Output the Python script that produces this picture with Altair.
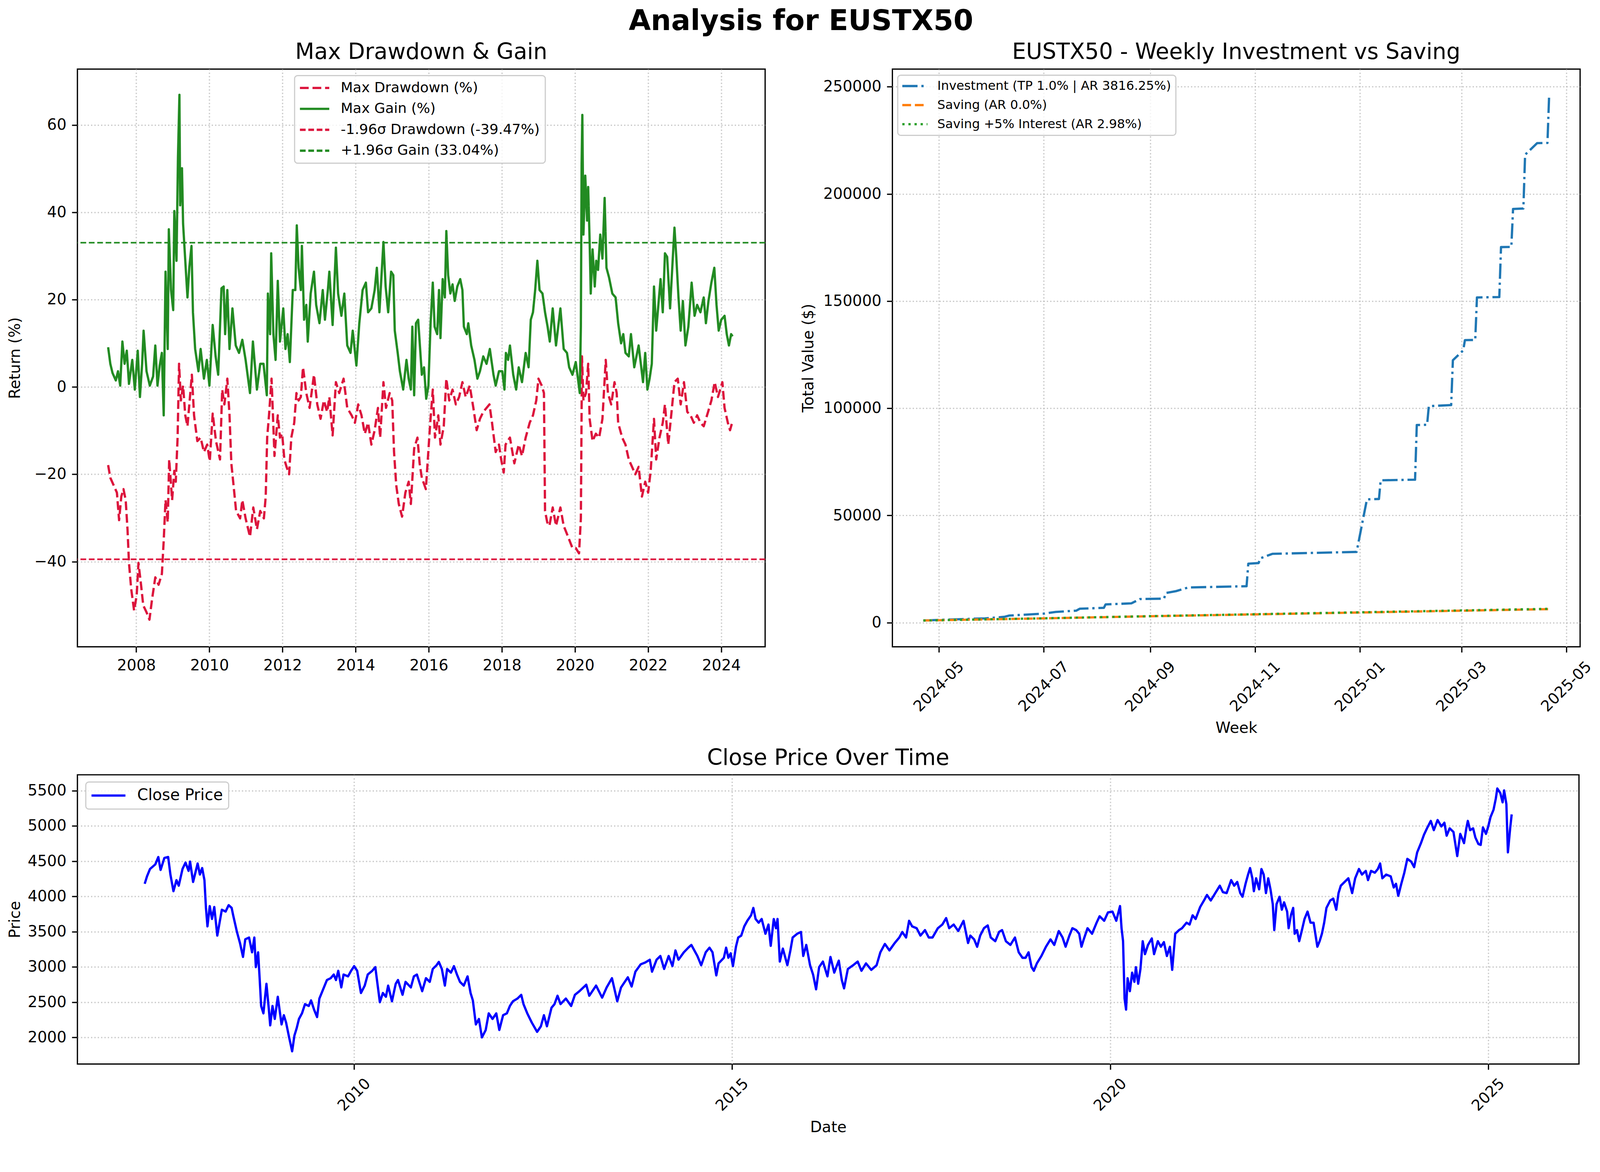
import math

import altair as alt
import pandas as pd

# ---------------------------------------------------------------------------
# Max drawdown / max gain (%) - x values are decimal years
# ---------------------------------------------------------------------------
DD_YEARS = [
    2007.23, 2007.29, 2007.38, 2007.47, 2007.53, 2007.59, 2007.65, 2007.71, 2007.76, 2007.80,
    2007.86, 2007.94, 2008.01, 2008.06, 2008.13, 2008.19, 2008.28, 2008.36, 2008.43, 2008.52,
    2008.61, 2008.70, 2008.75, 2008.80, 2008.86, 2008.90, 2008.98, 2009.04, 2009.08, 2009.13,
    2009.17, 2009.22, 2009.28, 2009.34, 2009.40, 2009.46, 2009.52, 2009.58, 2009.67, 2009.76,
    2009.85, 2009.94, 2010.01, 2010.09, 2010.18, 2010.29, 2010.35, 2010.41, 2010.49, 2010.55,
    2010.60, 2010.66, 2010.73, 2010.84, 2010.90, 2010.99, 2011.11, 2011.20, 2011.30, 2011.39,
    2011.49, 2011.54, 2011.58, 2011.63, 2011.70, 2011.78, 2011.87, 2011.93, 2011.99, 2012.05,
    2012.11, 2012.18, 2012.24, 2012.32, 2012.38, 2012.44, 2012.50, 2012.56, 2012.65, 2012.74,
    2012.86, 2012.95, 2013.04, 2013.13, 2013.22, 2013.28, 2013.37, 2013.46, 2013.55, 2013.67,
    2013.77, 2013.89, 2013.98, 2014.07, 2014.16, 2014.25, 2014.34, 2014.43, 2014.52, 2014.61,
    2014.67, 2014.76, 2014.83, 2014.93, 2015.00, 2015.05, 2015.11, 2015.18, 2015.27, 2015.36,
    2015.45, 2015.51, 2015.60, 2015.69, 2015.75, 2015.81, 2015.92, 2015.98, 2016.04, 2016.11,
    2016.17, 2016.26, 2016.32, 2016.41, 2016.48, 2016.56, 2016.65, 2016.74, 2016.83, 2016.92,
    2017.01, 2017.12, 2017.22, 2017.31, 2017.40, 2017.49, 2017.66, 2017.73, 2017.83, 2017.92,
    2017.98, 2018.05, 2018.10, 2018.22, 2018.34, 2018.46, 2018.55, 2018.65, 2018.76, 2018.85,
    2018.94, 2019.00, 2019.09, 2019.15, 2019.18, 2019.24, 2019.30, 2019.39, 2019.48, 2019.60,
    2019.69, 2019.81, 2019.93, 2020.02, 2020.11, 2020.16, 2020.19, 2020.23, 2020.30, 2020.36,
    2020.40, 2020.48, 2020.57, 2020.66, 2020.75, 2020.84, 2020.90, 2020.99, 2021.08, 2021.14,
    2021.18, 2021.29, 2021.38, 2021.47, 2021.56, 2021.65, 2021.74, 2021.83, 2021.92, 2022.00,
    2022.07, 2022.16, 2022.22, 2022.31, 2022.40, 2022.46, 2022.55, 2022.64, 2022.72, 2022.81,
    2022.89, 2022.98, 2023.07, 2023.16, 2023.25, 2023.34, 2023.43, 2023.52, 2023.64, 2023.73,
    2023.82, 2023.91, 2024.03, 2024.09, 2024.18, 2024.24, 2024.31,
]
DD_VALUES = [
    -17.9, -20.8, -22.5, -24.2, -30.5, -25.1, -23.4, -25.9, -32.6, -40.3,
    -46.2, -51.2, -47.8, -40.3, -45.3, -50.0, -51.6, -53.3, -48.7, -43.6,
    -45.3, -42.8, -35.2, -25.9, -31.0, -16.6, -25.9, -19.2, -21.7, -11.6,
    5.3, -3.1, 0.3, -6.5, -9.0, -3.1, 2.8, -6.5, -12.4, -11.6,
    -14.9, -13.2, -17.0, -6.1, -12.4, -16.6, -0.6, -4.0, 1.9, -6.5,
    -17.5, -22.5, -28.4, -30.1, -25.9, -30.1, -34.3, -27.6, -32.6, -28.4,
    -30.1, -25.1, -11.6, -6.5, 1.9, -15.8, -6.5, -11.6, -10.7, -16.6,
    -18.3, -20.0, -11.6, -8.2, -1.4, -3.1, -2.3, 4.5, -1.4, -4.8,
    2.8, -4.0, -7.3, -3.1, -5.7, -2.3, -11.1, 1.1, -1.4, 1.9,
    -4.8, -6.5, -8.2, -4.0, -6.5, -10.7, -8.2, -13.2, -9.9, -4.8,
    -11.6, 1.1, -4.8, -1.4, -3.1, -14.9, -22.5, -26.8, -29.7, -24.2,
    -21.7, -26.8, -14.1, -11.6, -17.5, -20.8, -23.4, -15.8, -8.2, -0.6,
    -11.6, -6.5, -13.2, -9.0, 1.9, -3.1, -0.6, -4.0, -2.3, 1.1,
    -2.3, 0.3, -4.8, -9.9, -7.3, -5.7, -4.0, -8.2, -14.9, -13.2,
    -16.6, -19.6, -13.2, -11.6, -17.5, -13.2, -15.8, -11.6, -8.2, -6.5,
    -3.1, 1.9, 0.3, -1.4, -28.4, -31.0, -31.8, -27.6, -31.8, -27.6,
    -31.8, -34.3, -36.9, -36.9, -38.1, -30.1, 7.0, -3.1, -1.4, 5.3,
    -7.3, -12.4, -10.7, -11.6, -7.3, 6.2, -1.4, -4.0, 1.1, -1.4,
    -8.2, -11.6, -13.2, -16.6, -18.3, -20.0, -18.3, -25.1, -21.7, -24.2,
    -19.2, -7.3, -16.6, -11.6, -8.2, -4.0, -13.2, -5.7, 1.1, 1.9,
    -4.0, 1.1, -5.7, -6.5, -8.2, -6.5, -8.2, -9.0, -5.7, -3.1,
    1.1, -2.3, 1.1, -4.8, -8.2, -9.9, -7.8,
]
GAIN_YEARS = [
    2007.23, 2007.29, 2007.35, 2007.44, 2007.50, 2007.56, 2007.62, 2007.68, 2007.74, 2007.80,
    2007.89, 2007.96, 2008.04, 2008.10, 2008.16, 2008.20, 2008.28, 2008.37, 2008.46, 2008.52,
    2008.58, 2008.64, 2008.70, 2008.75, 2008.80, 2008.86, 2008.89, 2008.95, 2009.01, 2009.04,
    2009.10, 2009.14, 2009.18, 2009.20, 2009.25, 2009.28, 2009.34, 2009.40, 2009.45, 2009.51,
    2009.55, 2009.61, 2009.70, 2009.76, 2009.85, 2009.93, 2010.00, 2010.09, 2010.17, 2010.24,
    2010.33, 2010.39, 2010.43, 2010.49, 2010.55, 2010.63, 2010.72, 2010.81, 2010.90, 2010.99,
    2011.11, 2011.19, 2011.30, 2011.39, 2011.48, 2011.57, 2011.60, 2011.66, 2011.69, 2011.75,
    2011.81, 2011.87, 2011.93, 2012.02, 2012.08, 2012.14, 2012.20, 2012.28, 2012.35, 2012.39,
    2012.44, 2012.50, 2012.53, 2012.59, 2012.65, 2012.69, 2012.77, 2012.86, 2012.92, 2013.01,
    2013.10, 2013.16, 2013.24, 2013.28, 2013.37, 2013.46, 2013.52, 2013.61, 2013.69, 2013.77,
    2013.86, 2013.92, 2014.02, 2014.10, 2014.19, 2014.28, 2014.34, 2014.43, 2014.52, 2014.58,
    2014.65, 2014.76, 2014.82, 2014.89, 2014.97, 2015.03, 2015.07, 2015.15, 2015.21, 2015.30,
    2015.39, 2015.45, 2015.51, 2015.55, 2015.60, 2015.65, 2015.71, 2015.75, 2015.81, 2015.87,
    2015.93, 2015.99, 2016.05, 2016.11, 2016.16, 2016.23, 2016.28, 2016.32, 2016.38, 2016.44,
    2016.48, 2016.53, 2016.59, 2016.65, 2016.71, 2016.78, 2016.86, 2016.92, 2016.96, 2017.04,
    2017.08, 2017.16, 2017.25, 2017.33, 2017.40, 2017.49, 2017.58, 2017.67, 2017.77, 2017.83,
    2017.92, 2018.01, 2018.07, 2018.11, 2018.17, 2018.22, 2018.31, 2018.39, 2018.46, 2018.55,
    2018.65, 2018.73, 2018.79, 2018.85, 2018.91, 2018.97, 2019.03, 2019.11, 2019.18, 2019.25,
    2019.31, 2019.39, 2019.48, 2019.60, 2019.69, 2019.78, 2019.84, 2019.93, 2020.02, 2020.08,
    2020.13, 2020.16, 2020.18, 2020.20, 2020.23, 2020.28, 2020.33, 2020.36, 2020.40, 2020.43,
    2020.48, 2020.54, 2020.58, 2020.63, 2020.69, 2020.75, 2020.81, 2020.86, 2020.93, 2021.02,
    2021.11, 2021.18, 2021.26, 2021.32, 2021.38, 2021.47, 2021.53, 2021.62, 2021.68, 2021.74,
    2021.80, 2021.86, 2021.92, 2021.98, 2022.04, 2022.10, 2022.16, 2022.22, 2022.28, 2022.34,
    2022.40, 2022.46, 2022.52, 2022.60, 2022.67, 2022.72, 2022.77, 2022.83, 2022.89, 2022.95,
    2023.02, 2023.10, 2023.19, 2023.27, 2023.34, 2023.43, 2023.52, 2023.58, 2023.65, 2023.73,
    2023.81, 2023.87, 2023.93, 2024.00, 2024.09, 2024.15, 2024.21, 2024.27, 2024.31,
]
GAIN_VALUES = [
    9.1, 5.3, 3.2, 1.5, 3.6, 0.3, 10.4, 5.3, 8.3, 0.7,
    6.2, -0.6, 8.3, -2.3, 5.3, 12.9, 3.6, 0.3, 2.4, 9.5,
    0.3, 4.9, 7.8, -6.5, 26.4, 8.7, 36.1, 22.2, 17.6, 40.3,
    28.9, 52.6, 66.9, 41.6, 50.1, 37.4, 28.9, 20.5, 27.3, 32.3,
    17.1, 8.7, 3.6, 8.7, 1.9, 6.2, 0.3, 14.2, 7.0, 2.8,
    22.6, 23.0, 12.1, 22.2, 8.7, 18.0, 9.5, 7.8, 10.8, 6.2,
    -1.4, 10.4, -0.6, 5.3, 5.3, -1.9, 21.4, 12.1, 30.6, 12.1,
    6.2, 24.3, 10.4, 18.0, 8.7, 12.1, 5.7, 22.2, 22.2, 37.0,
    27.3, 22.2, 32.3, 15.4, 18.8, 10.4, 21.4, 26.4, 18.8, 14.6,
    22.2, 15.4, 22.2, 26.4, 14.2, 31.9, 21.4, 16.3, 21.4, 9.5,
    7.8, 12.9, 4.9, 14.6, 22.2, 23.9, 17.1, 18.0, 22.2, 27.3,
    17.1, 33.2, 23.0, 17.1, 26.4, 25.6, 12.9, 7.8, 3.6, -0.6,
    6.2, 1.9, -0.6, 13.8, -1.9, 14.6, 15.4, 10.4, 2.8, 4.5,
    -2.7, 0.3, 14.6, 23.9, 13.8, 12.1, 22.2, 11.2, 24.7, 20.5,
    35.7, 25.6, 21.4, 23.5, 19.7, 23.0, 24.7, 22.2, 13.8, 12.1,
    14.6, 9.5, 6.2, 1.9, 3.6, 7.0, 5.3, 8.7, 2.8, 0.3,
    3.6, 3.6, -0.6, 7.8, 6.2, 9.5, 2.8, -0.6, 4.5, 1.1,
    7.8, 4.5, 15.4, 17.1, 22.2, 28.9, 22.2, 21.4, 17.1, 13.8,
    10.4, 18.0, 9.5, 18.0, 8.7, 7.8, 4.5, 2.8, 5.7, 1.9,
    -1.4, 13.8, 50.9, 62.3, 34.9, 48.4, 38.1, 45.8, 33.2, 21.4,
    31.5, 23.0, 28.9, 26.8, 34.9, 29.4, 43.3, 27.3, 25.1, 21.4,
    20.5, 14.6, 10.0, 12.1, 7.8, 7.0, 12.1, 4.5, 7.0, 9.5,
    5.3, 1.1, 7.8, -0.6, 1.9, 5.3, 23.0, 12.9, 18.8, 24.7,
    17.1, 30.6, 29.8, 18.0, 28.9, 36.5, 29.8, 20.5, 12.9, 19.7,
    9.5, 13.8, 23.9, 16.3, 18.8, 17.1, 20.5, 14.6, 19.7, 23.9,
    27.3, 18.8, 12.9, 15.4, 16.3, 12.1, 9.5, 12.1, 11.6,
]
DD_LIMIT = -39.47
GAIN_LIMIT = 33.04
LEFT_LABELS = [
    "Max Drawdown (%)",
    "Max Gain (%)",
    "-1.96σ Drawdown (-39.47%)",
    "+1.96σ Gain (33.04%)",
]

# ---------------------------------------------------------------------------
# Weekly investment vs saving
# ---------------------------------------------------------------------------
INV_DATES = [
    "2024-04-22", "2024-05-09", "2024-05-28", "2024-06-08", "2024-06-11", "2024-07-01",
    "2024-07-08", "2024-07-20", "2024-07-22", "2024-08-05", "2024-08-06", "2024-08-21",
    "2024-08-26", "2024-09-09", "2024-09-10", "2024-09-16", "2024-09-23", "2024-10-27",
    "2024-10-28", "2024-11-03", "2024-11-04", "2024-11-11", "2024-12-30", "2025-01-05",
    "2025-01-12", "2025-01-13", "2025-02-02", "2025-02-03", "2025-02-09", "2025-02-10",
    "2025-02-23", "2025-02-24", "2025-03-02", "2025-03-03", "2025-03-09", "2025-03-10",
    "2025-03-23", "2025-03-24", "2025-03-30", "2025-03-31", "2025-04-06", "2025-04-07",
    "2025-04-14", "2025-04-20", "2025-04-21",
]
INV_VALUES = [
    1000, 1500, 2000, 2700, 3300, 4200,
    5000, 5600, 6500, 6900, 8500, 9000,
    11000, 11200, 13800, 14700, 16400, 17000,
    27500, 27800, 30000, 32100, 33000, 57500,
    57700, 66400, 66700, 92200, 92300, 101000,
    101500, 122400, 127000, 131800, 131900, 151700,
    151900, 175200, 175300, 193000, 193200, 218300,
    223700, 223800, 246300,
]
SAVE_DATES = [
    "2024-04-22", "2024-07-01", "2024-09-02", "2024-11-04",
    "2025-01-06", "2025-03-03", "2025-04-21",
]
SAVE_VALUES = [1000, 2000, 3000, 3900, 4800, 5600, 6300]
SAVE5_VALUES = [1000, 2020, 3040, 3970, 4900, 5720, 6450]
RIGHT_LABELS = [
    "Investment (TP 1.0% | AR 3816.25%)",
    "Saving (AR 0.0%)",
    "Saving +5% Interest (AR 2.98%)",
]

# ---------------------------------------------------------------------------
# Close price - x values are decimal years
# ---------------------------------------------------------------------------
PRICE_YEARS = [
    2007.23, 2007.26, 2007.30, 2007.37, 2007.41, 2007.44, 2007.49, 2007.54, 2007.57, 2007.61,
    2007.65, 2007.68, 2007.73, 2007.77, 2007.81, 2007.83, 2007.87, 2007.93, 2007.96, 2007.99,
    2008.02, 2008.04, 2008.06, 2008.09, 2008.12, 2008.15, 2008.19, 2008.25, 2008.30, 2008.34,
    2008.38, 2008.40, 2008.45, 2008.49, 2008.53, 2008.56, 2008.61, 2008.65, 2008.68, 2008.70,
    2008.73, 2008.75, 2008.77, 2008.80, 2008.84, 2008.87, 2008.89, 2008.92, 2008.95, 2008.99,
    2009.04, 2009.07, 2009.10, 2009.14, 2009.18, 2009.21, 2009.24, 2009.27, 2009.31, 2009.35,
    2009.40, 2009.43, 2009.47, 2009.51, 2009.54, 2009.59, 2009.64, 2009.69, 2009.73, 2009.76,
    2009.79, 2009.83, 2009.86, 2009.92, 2009.96, 2010.00, 2010.04, 2010.09, 2010.14, 2010.18,
    2010.24, 2010.28, 2010.34, 2010.38, 2010.42, 2010.45, 2010.50, 2010.55, 2010.58, 2010.64,
    2010.68, 2010.75, 2010.79, 2010.83, 2010.90, 2010.95, 2011.00, 2011.04, 2011.09, 2011.12,
    2011.16, 2011.20, 2011.23, 2011.28, 2011.32, 2011.36, 2011.40, 2011.45, 2011.50, 2011.54,
    2011.57, 2011.61, 2011.65, 2011.69, 2011.74, 2011.78, 2011.83, 2011.88, 2011.92, 2011.97,
    2012.02, 2012.06, 2012.10, 2012.16, 2012.21, 2012.24, 2012.29, 2012.35, 2012.42, 2012.47,
    2012.51, 2012.55, 2012.61, 2012.65, 2012.69, 2012.73, 2012.80, 2012.87, 2012.92, 2012.98,
    2013.07, 2013.11, 2013.20, 2013.28, 2013.34, 2013.41, 2013.48, 2013.53, 2013.62, 2013.67,
    2013.72, 2013.79, 2013.85, 2013.91, 2013.94, 2014.00, 2014.05, 2014.10, 2014.16, 2014.21,
    2014.25, 2014.29, 2014.36, 2014.42, 2014.46, 2014.54, 2014.59, 2014.65, 2014.70, 2014.74,
    2014.79, 2014.82, 2014.89, 2014.92, 2014.95, 2014.98, 2015.01, 2015.05, 2015.08, 2015.12,
    2015.16, 2015.20, 2015.25, 2015.28, 2015.31, 2015.35, 2015.39, 2015.44, 2015.48, 2015.51,
    2015.55, 2015.58, 2015.60, 2015.63, 2015.67, 2015.73, 2015.77, 2015.80, 2015.86, 2015.91,
    2015.94, 2015.98, 2016.03, 2016.07, 2016.11, 2016.15, 2016.20, 2016.26, 2016.30, 2016.35,
    2016.41, 2016.45, 2016.48, 2016.53, 2016.60, 2016.66, 2016.71, 2016.77, 2016.84, 2016.91,
    2016.96, 2017.02, 2017.08, 2017.15, 2017.21, 2017.25, 2017.30, 2017.34, 2017.38, 2017.44,
    2017.49, 2017.55, 2017.60, 2017.65, 2017.72, 2017.78, 2017.83, 2017.87, 2017.93, 2017.99,
    2018.06, 2018.09, 2018.12, 2018.15, 2018.20, 2018.24, 2018.28, 2018.33, 2018.38, 2018.42,
    2018.48, 2018.53, 2018.57, 2018.62, 2018.68, 2018.74, 2018.79, 2018.84, 2018.88, 2018.92,
    2018.96, 2018.99, 2019.03, 2019.09, 2019.15, 2019.21, 2019.26, 2019.32, 2019.37, 2019.41,
    2019.46, 2019.50, 2019.55, 2019.59, 2019.62, 2019.65, 2019.70, 2019.76, 2019.82, 2019.86,
    2019.92, 2019.97, 2020.03, 2020.08, 2020.13, 2020.15, 2020.17, 2020.19, 2020.21, 2020.23,
    2020.26, 2020.29, 2020.32, 2020.34, 2020.37, 2020.40, 2020.43, 2020.46, 2020.50, 2020.55,
    2020.58, 2020.63, 2020.67, 2020.71, 2020.75, 2020.79, 2020.82, 2020.86, 2020.91, 2020.95,
    2021.01, 2021.05, 2021.09, 2021.13, 2021.19, 2021.24, 2021.28, 2021.33, 2021.39, 2021.45,
    2021.49, 2021.54, 2021.60, 2021.64, 2021.68, 2021.72, 2021.75, 2021.79, 2021.82, 2021.85,
    2021.88, 2021.90, 2021.93, 2021.97, 2022.00, 2022.03, 2022.06, 2022.09, 2022.12, 2022.15,
    2022.17, 2022.20, 2022.24, 2022.27, 2022.30, 2022.34, 2022.36, 2022.39, 2022.42, 2022.44,
    2022.47, 2022.50, 2022.53, 2022.57, 2022.61, 2022.65, 2022.69, 2022.74, 2022.77, 2022.80,
    2022.83, 2022.86, 2022.91, 2022.95, 2022.99, 2023.02, 2023.05, 2023.10, 2023.15, 2023.20,
    2023.24, 2023.29, 2023.33, 2023.38, 2023.41, 2023.45, 2023.50, 2023.54, 2023.57, 2023.60,
    2023.65, 2023.71, 2023.75, 2023.78, 2023.81, 2023.85, 2023.89, 2023.93, 2023.98, 2024.02,
    2024.06, 2024.11, 2024.15, 2024.19, 2024.24, 2024.28, 2024.33, 2024.38, 2024.42, 2024.45,
    2024.49, 2024.54, 2024.59, 2024.63, 2024.68, 2024.71, 2024.73, 2024.76, 2024.80, 2024.83,
    2024.87, 2024.90, 2024.93, 2024.97, 2025.00, 2025.03, 2025.07, 2025.10, 2025.12, 2025.16,
    2025.19, 2025.21, 2025.24, 2025.26, 2025.29, 2025.31,
]
PRICE_VALUES = [
    4180, 4285, 4390, 4455, 4560, 4376, 4547, 4560, 4311, 4075,
    4232, 4153, 4390, 4481, 4363, 4495, 4206, 4468, 4311, 4403,
    4232, 3838, 3576, 3864, 3681, 3851, 3445, 3812, 3786, 3877,
    3838, 3733, 3497, 3340, 3143, 3392, 3418, 3208, 3418, 2998,
    3208, 2841, 2447, 2342, 2762, 2421, 2172, 2447, 2263, 2578,
    2185, 2316, 2211, 2001, 1804, 2027, 2132, 2263, 2342, 2473,
    2447, 2526, 2395, 2290, 2552, 2683, 2815, 2841, 2893, 2815,
    2946, 2710, 2893, 2867, 2946, 3012, 2946, 2631, 2736, 2893,
    2946, 2998, 2500, 2631, 2578, 2736, 2513, 2762, 2815, 2605,
    2789, 2710, 2867, 2893, 2657, 2841, 2789, 2972, 3025, 3072,
    2972, 2736, 2972, 2920, 3012, 2893, 2789, 2736, 2867, 2631,
    2526, 2185, 2263, 2001, 2106, 2342, 2263, 2342, 2106, 2316,
    2342, 2447, 2513, 2552, 2605, 2473, 2342, 2211, 2080, 2159,
    2316, 2159, 2421, 2473, 2592, 2473, 2552, 2447, 2605, 2657,
    2749, 2592, 2736, 2565, 2710, 2841, 2513, 2710, 2854, 2723,
    2933, 3038, 3064, 3103, 2933, 3103, 3156, 2972, 3156, 3012,
    3235, 3103, 3208, 3274, 3313, 3156, 3025, 3208, 3274, 3208,
    2880, 3051, 3130, 3274, 3130, 3195, 3012, 3287, 3418, 3445,
    3576, 3655, 3733, 3838, 3681, 3628, 3681, 3471, 3602, 3300,
    3681, 3550, 3681, 3077, 3261, 3025, 3235, 3418, 3471, 3497,
    3156, 3313, 3025, 2893, 2683, 2998, 3077, 2867, 3143, 2920,
    3090, 2815, 2697, 2972, 3025, 3077, 2946, 3051, 2959, 3025,
    3208, 3327, 3235, 3340, 3418, 3497, 3418, 3655, 3576, 3550,
    3445, 3523, 3418, 3418, 3550, 3602, 3694, 3550, 3602, 3510,
    3655, 3497, 3340, 3445, 3392, 3287, 3445, 3550, 3589, 3418,
    3366, 3497, 3523, 3366, 3313, 3418, 3208, 3130, 3130, 3208,
    2998, 2946, 3051, 3156, 3287, 3392, 3313, 3510, 3418, 3287,
    3445, 3550, 3523, 3471, 3287, 3392, 3550, 3471, 3628, 3720,
    3655, 3773, 3786, 3655, 3864, 3550, 3366, 2552, 2395, 2841,
    2657, 2920, 2789, 2998, 2762, 2972, 3366, 3182, 3313, 3405,
    3182, 3366, 3287, 3353, 3156, 3287, 2959, 3471, 3523, 3550,
    3628, 3602, 3733, 3681, 3851, 3943, 4022, 3943, 4048, 4153,
    4062, 4048, 4232, 4153, 4206, 4048, 3996, 4180, 4298, 4403,
    4258, 4075, 4258, 4101, 4390, 4311, 4048, 4258, 4101, 3891,
    3523, 3891, 3996, 3812, 3917, 3786, 3550, 3733, 3838, 3471,
    3523, 3366, 3497, 3681, 3786, 3628, 3628, 3287, 3366, 3471,
    3628, 3838, 3943, 3970, 3812, 4048, 4153, 4206, 4258, 4048,
    4258, 4390, 4311, 4363, 4232, 4363, 4337, 4390, 4468, 4258,
    4311, 4285, 4127, 4180, 4009, 4180, 4337, 4534, 4495, 4416,
    4626, 4757, 4875, 4967, 5072, 4941, 5085, 4993, 5046, 4862,
    4967, 4915, 4573, 4888, 4757, 4967, 5072, 4941, 4967, 4836,
    4744, 4731, 4980, 4888, 4993, 5125, 5230, 5388, 5532, 5466,
    5335, 5505, 5309, 4626, 4967, 5164,
]

CRIMSON = "#dc143c"
FOREST = "#228b22"
FONT = "DejaVu Sans"

# Dash patterns in px (matplotlib '--', '-.', ':' at 300 dpi)
DASH_LW15 = [23, 10]
DASH_LW10 = [15, 7]
DASHDOT = [40, 10, 6, 10]
DOTTED = [6, 10]
SOLID = [1, 0]

# Legend handle drawn as a custom path 8 units long (4 * sqrt(size) px), so
# that the entry height is set by the label font and not by the handle length
HANDLE_PATH = "M-4,0H4"
HANDLE_STROKE = 6


def mpl_legend(x, y, font_size, handle_len, pitch, pad, text_gap):
    """Matplotlib-looking legend box placed inside the plot area"""
    unit = handle_len / 4
    entry = max(math.ceil(unit + HANDLE_STROKE), font_size)
    symbol_offset = handle_len / 2 - entry / 2
    return alt.Legend(
        orient="none",
        legendX=x,
        legendY=y,
        symbolType=HANDLE_PATH,
        symbolSize=unit**2,
        symbolStrokeWidth=HANDLE_STROKE,
        symbolOffset=symbol_offset,
        labelFontSize=font_size,
        labelOffset=handle_len + text_gap - entry - symbol_offset,
        labelLimit=0,
        rowPadding=max(pitch - (entry / 2 + 0.53 * font_size), 0),
        padding=pad,
        fillColor="rgba(255,255,255,0.8)",
        strokeColor="#cccccc",
        cornerRadius=8,
    )


# ---------------------------------------------------------------------------
# Panel 1: max drawdown & gain
# ---------------------------------------------------------------------------
dd_df = pd.DataFrame({"year": DD_YEARS, "value": DD_VALUES, "series": LEFT_LABELS[0]})
gain_df = pd.DataFrame({"year": GAIN_YEARS, "value": GAIN_VALUES, "series": LEFT_LABELS[1]})
rule_df = pd.DataFrame({"value": [DD_LIMIT, GAIN_LIMIT], "series": LEFT_LABELS[2:]})

left_legend = mpl_legend(570, 17, 37, 77, 55, 14, 30)
left_color = alt.Color(
    "series:N",
    title=None,
    scale=alt.Scale(domain=LEFT_LABELS, range=[CRIMSON, FOREST, CRIMSON, FOREST]),
    legend=left_legend,
)
left_dash = alt.StrokeDash(
    "series:N",
    title=None,
    scale=alt.Scale(domain=LEFT_LABELS, range=[DASH_LW15, SOLID, DASH_LW10, DASH_LW10]),
    legend=left_legend,
)
left_x = alt.X(
    "year:Q",
    title=None,
    scale=alt.Scale(domain=[2006.39, 2025.2], nice=False, zero=False),
    axis=alt.Axis(values=list(range(2008, 2025, 2)), format="d"),
)
left_y = alt.Y(
    "value:Q",
    title="Return (%)",
    scale=alt.Scale(domain=[-59.5, 72.8], nice=False, zero=False),
    axis=alt.Axis(values=[-40, -20, 0, 20, 40, 60], format="d",
                  minExtent=128, maxExtent=128, titlePadding=15),
)

dd_line = alt.Chart(dd_df).mark_line(strokeWidth=6, strokeJoin="round").encode(
    x=left_x, y=left_y, color=left_color, strokeDash=left_dash
)
gain_line = alt.Chart(gain_df).mark_line(strokeWidth=6, strokeJoin="round").encode(
    x=left_x, y=left_y, color=left_color, strokeDash=left_dash
)
limit_rules = alt.Chart(rule_df).mark_rule(strokeWidth=4.2).encode(
    y=left_y, color=left_color, strokeDash=left_dash
)
left = alt.layer(dd_line, gain_line, limit_rules).properties(
    width=1805, height=1516, title="Max Drawdown & Gain"
)

# ---------------------------------------------------------------------------
# Panel 2: weekly investment vs saving
# ---------------------------------------------------------------------------
inv_df = pd.DataFrame({"week": INV_DATES, "total": INV_VALUES, "series": RIGHT_LABELS[0]})
save_df = pd.DataFrame({"week": SAVE_DATES, "total": SAVE_VALUES, "series": RIGHT_LABELS[1]})
save5_df = pd.DataFrame({"week": SAVE_DATES, "total": SAVE5_VALUES, "series": RIGHT_LABELS[2]})
for frame in (inv_df, save_df, save5_df):
    frame["week"] = frame["week"] + "T00:00:00"

right_legend = mpl_legend(14, 16, 33, 66, 50, 12, 26)
right_color = alt.Color(
    "series:N",
    title=None,
    scale=alt.Scale(domain=RIGHT_LABELS, range=["#1f77b4", "#ff7f0e", "#2ca02c"]),
    legend=right_legend,
)
right_dash = alt.StrokeDash(
    "series:N",
    title=None,
    scale=alt.Scale(domain=RIGHT_LABELS, range=[DASHDOT, DASH_LW15, DOTTED]),
    legend=right_legend,
)
month_ticks = [
    alt.DateTime(year=2024, month=5, date=1),
    alt.DateTime(year=2024, month=7, date=1),
    alt.DateTime(year=2024, month=9, date=1),
    alt.DateTime(year=2024, month=11, date=1),
    alt.DateTime(year=2025, month=1, date=1),
    alt.DateTime(year=2025, month=3, date=1),
    alt.DateTime(year=2025, month=5, date=1),
]
right_x = alt.X(
    "week:T",
    title="Week",
    scale=alt.Scale(domain=[alt.DateTime(year=2024, month=4, date=4),
                            alt.DateTime(year=2025, month=5, date=9)], nice=False),
    axis=alt.Axis(values=month_ticks, format="%Y-%m", labelAngle=315,
                  labelAlign="center", labelBaseline="middle", labelPadding=90,
                  minExtent=180, maxExtent=180, titlePadding=14),
)
right_y = alt.Y(
    "total:Q",
    title="Total Value ($)",
    scale=alt.Scale(domain=[-11250, 258250], nice=False, zero=False),
    axis=alt.Axis(values=list(range(0, 250001, 50000)), format="d",
                  minExtent=185, maxExtent=185, titlePadding=15),
)

right_layers = [
    alt.Chart(df).mark_line(strokeWidth=6, strokeJoin="round").encode(
        x=right_x, y=right_y, color=right_color, strokeDash=right_dash
    )
    for df in (inv_df, save_df, save5_df)
]
right = alt.layer(*right_layers).properties(
    width=1805, height=1516, title="EUSTX50 - Weekly Investment vs Saving"
)

# ---------------------------------------------------------------------------
# Panel 3: close price
# ---------------------------------------------------------------------------
price_df = pd.DataFrame({"year": PRICE_YEARS, "price": PRICE_VALUES, "series": "Close Price"})

price = alt.Chart(price_df).mark_line(strokeWidth=6, strokeJoin="round").encode(
    x=alt.X(
        "year:Q",
        title="Date",
        scale=alt.Scale(domain=[2006.34, 2026.2], nice=False, zero=False),
        axis=alt.Axis(values=[2010, 2015, 2020, 2025], format="d", labelAngle=315,
                      labelAlign="center", labelBaseline="middle", labelPadding=66,
                      minExtent=132, maxExtent=132, titlePadding=14),
    ),
    y=alt.Y(
        "price:Q",
        title="Price",
        scale=alt.Scale(domain=[1624, 5726], nice=False, zero=False),
        axis=alt.Axis(values=list(range(2000, 5501, 500)), format="d",
                      minExtent=128, maxExtent=128, titlePadding=15),
    ),
    color=alt.Color(
        "series:N",
        title=None,
        scale=alt.Scale(domain=["Close Price"], range=["#0000ff"]),
        legend=mpl_legend(22, 19, 41, 89, 0, 15, 31),
    ),
).properties(width=3941, height=759, title="Close Price Over Time")

# ---------------------------------------------------------------------------
# Figure
# ---------------------------------------------------------------------------
top_row = alt.hconcat(left, right, spacing=88).resolve_scale(
    color="independent", strokeDash="independent"
)
chart = (
    alt.vconcat(top_row, price, spacing=26)
    .resolve_scale(color="independent", strokeDash="independent")
    .properties(
        title=alt.TitleParams("Analysis for EUSTX50", fontSize=75, fontWeight="bold",
                              anchor="middle", frame="bounds", offset=13),
        padding={"left": 10, "right": 5, "top": -27, "bottom": 5},
    )
    .configure(font=FONT)
    .configure_title(font=FONT, fontSize=58, fontWeight="normal", color="black",
                     anchor="middle", frame="group", baseline="alphabetic", offset=14)
    .configure_axis(
        labelFont=FONT, titleFont=FONT, labelFontSize=40, titleFontSize=40,
        titleFontWeight="normal", labelColor="black", titleColor="black",
        tickColor="black", tickSize=14.6, tickWidth=3.3, labelPadding=14.6,
        domain=False, gridColor="#b0b0b0", gridOpacity=0.7, gridDash=[3.3, 5.5],
        gridWidth=3.3, labelOverlap=False, labelFlush=False,
    )
    .configure_legend(labelFont=FONT, labelColor="black", strokeWidth=3)
    .configure_view(stroke="black", strokeWidth=3.3)
)

chart.save("out.html", embed_options={"renderer": "svg", "actions": False})
